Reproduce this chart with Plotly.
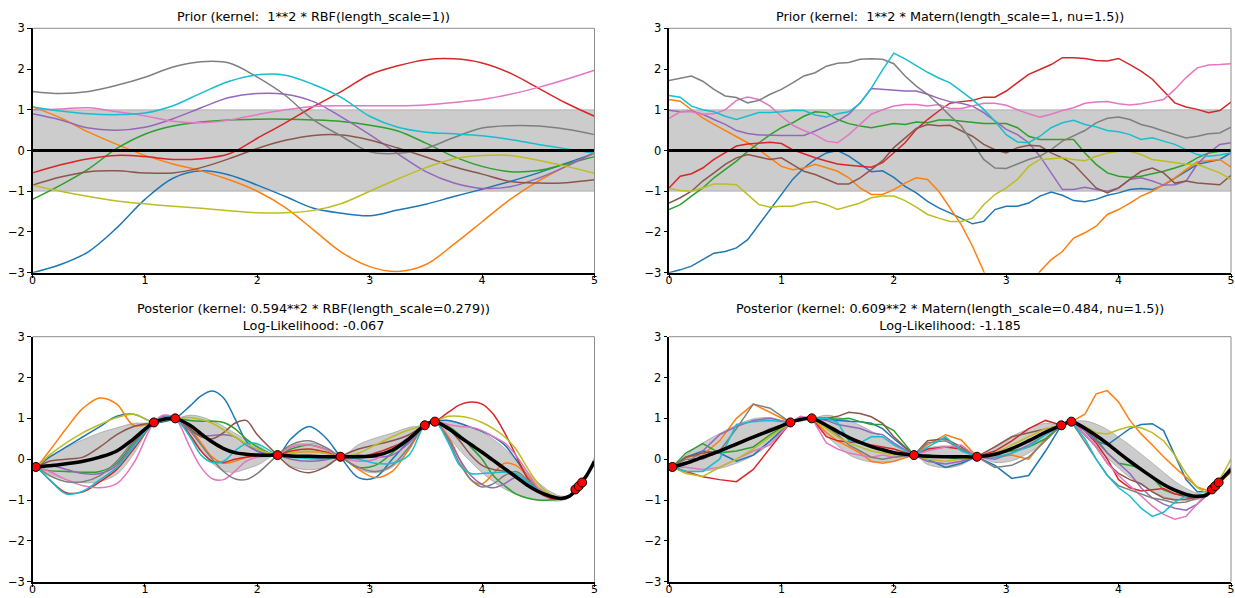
import numpy as np
import plotly.graph_objects as go

# ---------------- DATA ----------------
COLORS = ['#1f77b4', '#ff7f0e', '#2ca02c', '#d62728', '#9467bd',
          '#8c564b', '#e377c2', '#7f7f7f', '#bcbd22', '#17becf']

titles = [
    "Prior (kernel:\u00a0 1**2 * RBF(length_scale=1))",
    "Prior (kernel:\u00a0 1**2 * Matern(length_scale=1, nu=1.5))",
    "Posterior (kernel: 0.594**2 * RBF(length_scale=0.279))<br>Log-Likelihood: -0.067",
    "Posterior (kernel: 0.609**2 * Matern(length_scale=0.484, nu=1.5))<br>Log-Likelihood: -1.185",
]

x_ticks = [0, 1, 2, 3, 4, 5]
y_ticks = [-3, -2, -1, 0, 1, 2, 3]

# prior mean / std
prior_x = [0.0, 5.0]
prior_mean = [0.0, 0.0]
prior_std = [1.0, 1.0]

# ---- RBF prior samples (x step 0.25) ----
x_rbf_prior = [0.0, 0.25, 0.5, 0.75, 1.0, 1.25, 1.5, 1.75, 2.0, 2.25, 2.5,
               2.75, 3.0, 3.25, 3.5, 3.75, 4.0, 4.25, 4.5, 4.75, 5.0]
rp_blue = [-3.0, -2.8, -2.48, -1.9, -1.2, -0.68, -0.5, -0.6, -0.85, -1.13, -1.42,
           -1.54, -1.6, -1.46, -1.32, -1.13, -0.95, -0.76, -0.55, -0.31, -0.07]
rp_orange = [1.07, 0.8, 0.45, 0.15, -0.12, -0.33, -0.5, -0.72, -1.0, -1.4, -1.95,
             -2.5, -2.85, -2.97, -2.8, -2.3, -1.75, -1.2, -0.75, -0.38, -0.07]
rp_green = [-1.2, -0.85, -0.45, 0.05, 0.4, 0.6, 0.7, 0.75, 0.77, 0.77, 0.75,
            0.71, 0.62, 0.48, 0.18, -0.15, -0.39, -0.52, -0.49, -0.33, -0.15]
rp_red = [-0.55, -0.35, -0.2, -0.12, -0.15, -0.22, -0.2, -0.08, 0.3, 0.68, 1.08,
          1.45, 1.86, 2.08, 2.23, 2.25, 2.15, 1.9, 1.53, 1.16, 0.84]
rp_purple = [0.9, 0.75, 0.55, 0.5, 0.57, 0.78, 1.05, 1.3, 1.4, 1.38, 1.2,
             0.82, 0.39, -0.08, -0.52, -0.8, -0.93, -0.89, -0.68, -0.39, -0.05]
rp_brown = [-0.85, -0.65, -0.52, -0.5, -0.55, -0.55, -0.42, -0.2, 0.05, 0.25, 0.37,
            0.38, 0.26, 0.06, -0.16, -0.4, -0.58, -0.76, -0.8, -0.79, -0.72]
rp_pink = [1.0, 1.02, 1.05, 0.95, 0.85, 0.72, 0.68, 0.75, 0.88, 1.0, 1.08,
           1.1, 1.1, 1.1, 1.12, 1.18, 1.25, 1.38, 1.55, 1.75, 1.97]
rp_gray = [1.45, 1.4, 1.45, 1.6, 1.8, 2.05, 2.18, 2.15, 1.8, 1.35, 0.75,
           0.35, -0.03, -0.07, 0.05, 0.32, 0.55, 0.61, 0.6, 0.52, 0.39]
rp_olive = [-0.85, -1.0, -1.13, -1.24, -1.31, -1.37, -1.42, -1.48, -1.53, -1.53, -1.47,
            -1.3, -1.0, -0.7, -0.42, -0.2, -0.12, -0.12, -0.24, -0.39, -0.56]
rp_cyan = [1.07, 0.97, 0.9, 0.88, 0.92, 1.1, 1.41, 1.7, 1.86, 1.85, 1.62,
           1.3, 0.84, 0.57, 0.45, 0.41, 0.36, 0.27, 0.15, 0.04, -0.07]

# ---- Matern prior samples (x step 0.1) ----
x_mat_prior = [round(0.1 * i, 1) for i in range(51)]
mp_blue = [-3.0, -2.93, -2.84, -2.68, -2.52, -2.48, -2.39, -2.19, -1.82, -1.45, -1.08,
           -0.71, -0.43, -0.22, -0.06, 0.0, -0.14, -0.34, -0.52, -0.5, -0.66,
           -0.88, -1.04, -1.25, -1.41, -1.53, -1.66, -1.8, -1.74, -1.45, -1.37,
           -1.37, -1.29, -1.12, -1.02, -1.1, -1.23, -1.26, -1.2, -1.1, -1.04,
           -0.96, -0.93, -0.96, -0.85, -0.69, -0.51, -0.34, -0.28, -0.22, -0.06]
mp_orange = [1.25, 1.21, 1.0, 0.8, 0.64, 0.49, 0.35, 0.19, 0.02, -0.18, -0.39,
             -0.47, -0.43, -0.34, -0.43, -0.51, -0.67, -0.92, -1.08, -1.08, -0.96,
             -0.8, -0.67, -0.71, -1.0, -1.4, -1.82, -2.35, -2.97, -3.5, -3.8,
             -3.75, -3.4, -2.97, -2.68, -2.48, -2.15, -2.02, -1.86, -1.57, -1.45,
             -1.29, -1.12, -1.0, -0.84, -0.67, -0.47, -0.28, -0.25, -0.22, -0.41]
mp_green = [-1.45, -1.33, -1.12, -0.92, -0.67, -0.47, -0.26, -0.02, 0.19, 0.39, 0.56,
            0.68, 0.84, 0.95, 0.93, 0.76, 0.66, 0.6, 0.56, 0.61, 0.66,
            0.64, 0.7, 0.68, 0.75, 0.75, 0.72, 0.7, 0.66, 0.66, 0.66,
            0.56, 0.35, 0.27, 0.27, 0.27, 0.27, -0.06, -0.34, -0.55, -0.63,
            -0.66, -0.63, -0.57, -0.51, -0.43, -0.34, -0.18, -0.06, -0.02, 0.02]
mp_red = [-0.92, -0.63, -0.57, -0.43, -0.22, -0.06, 0.11, 0.16, 0.18, 0.2, 0.17,
          0.02, -0.08, -0.18, -0.26, -0.33, -0.36, -0.39, -0.41, -0.3, -0.06,
          0.19, 0.52, 0.76, 0.97, 1.16, 1.2, 1.23, 1.31, 1.31, 1.46,
          1.66, 1.87, 1.99, 2.11, 2.28, 2.28, 2.26, 2.21, 2.2, 2.26,
          2.11, 1.95, 1.75, 1.46, 1.17, 1.07, 1.01, 0.93, 0.98, 1.19]
mp_purple = [0.99, 0.95, 0.97, 0.89, 0.76, 0.64, 0.49, 0.42, 0.38, 0.37, 0.37,
             0.37, 0.37, 0.48, 0.6, 0.72, 0.89, 1.17, 1.52, 1.5, 1.48,
             1.46, 1.46, 1.38, 1.28, 1.2, 1.16, 1.09, 0.93, 0.72, 0.52,
             0.39, 0.19, -0.14, -0.55, -0.96, -0.96, -0.9, -0.96, -1.0, -0.92,
             -0.71, -0.67, -0.75, -0.85, -0.84, -0.75, -0.34, -0.06, 0.15, 0.19]
mp_brown = [-1.29, -1.16, -1.0, -0.75, -0.55, -0.34, -0.18, -0.1, -0.16, -0.22, -0.18,
            -0.34, -0.51, -0.59, -0.71, -0.82, -0.82, -0.67, -0.47, -0.25, 0.07,
            0.31, 0.54, 0.64, 0.61, 0.62, 0.48, 0.35, 0.15, 0.02, -0.06,
            0.07, 0.13, 0.11, -0.06, -0.18, -0.34, -0.63, -0.92, -1.04, -0.92,
            -0.71, -0.51, -0.43, -0.55, -0.8, -0.75, -0.8, -0.82, -0.84, -0.61]
mp_pink = [0.79, 0.95, 0.95, 0.89, 0.9, 1.0, 1.23, 1.31, 1.25, 1.09, 0.84,
           0.62, 0.49, 0.39, 0.23, 0.19, 0.39, 0.64, 0.89, 1.0, 1.09,
           1.13, 1.13, 1.09, 1.13, 1.03, 1.03, 1.09, 1.16, 1.16, 1.11,
           1.0, 0.9, 0.82, 0.89, 0.98, 1.05, 1.16, 1.19, 1.2, 1.15,
           1.12, 1.15, 1.2, 1.25, 1.5, 1.79, 2.03, 2.1, 2.11, 2.13]
mp_gray = [1.72, 1.77, 1.83, 1.7, 1.5, 1.34, 1.3, 1.17, 1.23, 1.38, 1.5,
           1.66, 1.83, 1.91, 2.07, 2.14, 2.16, 2.24, 2.25, 2.24, 2.13,
           1.83, 1.58, 1.38, 1.13, 0.85, 0.6, 0.19, -0.22, -0.43, -0.44,
           -0.33, -0.22, -0.14, 0.02, 0.23, 0.35, 0.49, 0.68, 0.79, 0.82,
           0.76, 0.64, 0.57, 0.48, 0.39, 0.31, 0.35, 0.41, 0.43, 0.57]
mp_olive = [-0.93, -0.98, -1.0, -0.92, -0.82, -0.82, -0.84, -1.08, -1.33, -1.39, -1.37,
            -1.37, -1.29, -1.25, -1.33, -1.45, -1.37, -1.29, -1.16, -1.12, -1.12,
            -1.23, -1.39, -1.57, -1.66, -1.74, -1.74, -1.66, -1.33, -1.08, -0.92,
            -0.71, -0.39, -0.22, -0.2, -0.18, -0.22, -0.25, -0.14, -0.06, -0.02,
            -0.02, -0.1, -0.22, -0.26, -0.3, -0.34, -0.34, -0.44, -0.55, -0.71]
mp_cyan = [1.35, 1.31, 1.09, 1.0, 0.95, 0.84, 0.76, 0.84, 0.93, 0.93, 0.95,
           0.99, 0.98, 0.87, 0.82, 0.9, 0.95, 1.16, 1.53, 1.98, 2.39,
           2.25, 2.08, 1.92, 1.78, 1.66, 1.46, 1.25, 1.01, 0.72, 0.39,
           0.21, 0.19, 0.35, 0.56, 0.68, 0.74, 0.64, 0.58, 0.49, 0.46,
           0.39, 0.27, 0.31, 0.23, 0.15, 0.02, -0.1, -0.14, -0.11, -0.06]

# ---- training data (posterior panels) ----
train_x = [0.03, 1.08, 1.27, 2.18, 2.74, 3.49, 3.58, 4.83, 4.86, 4.89]
train_y = [-0.19, 0.9, 1.0, 0.1, 0.06, 0.83, 0.92, -0.74, -0.66, -0.57]

# ---- posterior grid ----
x_post = [0.0, 0.03, 0.15, 0.3, 0.45, 0.6, 0.75, 0.9,
          1.08, 1.17, 1.27, 1.4, 1.5, 1.6, 1.7, 1.8, 1.9, 2.0,
          2.18, 2.3, 2.46, 2.6, 2.74, 2.9, 3.05, 3.2, 3.35, 3.49,
          3.58, 3.7, 3.8, 3.9, 4.0, 4.1, 4.2, 4.3, 4.4, 4.5,
          4.6, 4.7, 4.78, 4.86, 4.93, 5.0]

# RBF posterior
rq_mean = [-0.2, -0.19, -0.16, -0.11, -0.05, 0.05, 0.2, 0.5,
           0.9, 0.98, 1.0, 0.83, 0.62, 0.42, 0.26, 0.16, 0.12, 0.1,
           0.1, 0.08, 0.07, 0.06, 0.06, 0.06, 0.09, 0.22, 0.5, 0.83,
           0.92, 0.75, 0.55, 0.36, 0.17, -0.03, -0.23, -0.43, -0.63, -0.79,
           -0.9, -0.96, -0.9, -0.66, -0.4, -0.05]
rq_std = [0.05, 0.0, 0.2, 0.4, 0.53, 0.6, 0.57, 0.38,
          0.0, 0.05, 0.0, 0.25, 0.42, 0.52, 0.55, 0.48, 0.36, 0.25,
          0.0, 0.25, 0.33, 0.25, 0.0, 0.3, 0.43, 0.42, 0.28, 0.0,
          0.0, 0.2, 0.33, 0.43, 0.5, 0.52, 0.5, 0.43, 0.33, 0.22,
          0.12, 0.06, 0.03, 0.0, 0.03, 0.1]
rq_blue = [-0.19, -0.19, 0.05, 0.3, 0.55, 0.8, 1.05, 1.1,
           0.9, 0.92, 1.0, 1.3, 1.55, 1.67, 1.5, 1.0, 0.45, 0.2,
           0.1, 0.5, 0.8, 0.55, 0.06, -0.45, -0.45, 0.0, 0.45, 0.83,
           0.92, 0.95, 0.88, 0.78, 0.68, 0.55, 0.35, 0.0, -0.4, -0.72,
           -0.9, -0.95, -0.9, -0.66, -0.4, -0.05]
rq_orange = [-0.19, -0.19, 0.2, 0.75, 1.25, 1.5, 1.35, 0.83,
             0.9, 0.97, 1.0, 0.75, 0.4, 0.05, -0.1, -0.05, 0.05, 0.1,
             0.1, 0.15, 0.18, 0.15, 0.06, -0.25, -0.45, -0.3, 0.25, 0.83,
             0.92, 0.55, 0.0, -0.5, -0.6, -0.35, -0.1, -0.15, -0.4, -0.7,
             -0.88, -0.95, -0.9, -0.66, -0.4, -0.05]
rq_green = [-0.19, -0.19, -0.28, -0.3, -0.32, -0.3, -0.1, 0.4,
            0.9, 1.0, 1.0, 0.95, 0.93, 0.93, 0.9, 0.75, 0.5, 0.3,
            0.1, 0.25, 0.35, 0.25, 0.06, -0.2, -0.15, 0.15, 0.5, 0.83,
            0.92, 0.8, 0.6, 0.3, 0.0, -0.4, -0.65, -0.85, -0.95, -1.0,
            -1.0, -0.97, -0.9, -0.66, -0.4, -0.05]
rq_red = [-0.19, -0.19, -0.5, -0.82, -0.8, -0.55, -0.25, 0.25,
          0.9, 1.05, 1.0, 0.6, 0.2, -0.05, -0.08, 0.0, 0.05, 0.08,
          0.1, 0.2, 0.25, 0.18, 0.06, 0.05, 0.15, 0.3, 0.5, 0.83,
          0.92, 1.15, 1.33, 1.4, 1.35, 1.1, 0.65, 0.1, -0.45, -0.8,
          -0.95, -0.97, -0.9, -0.66, -0.4, -0.05]
rq_purple = [-0.19, -0.19, -0.15, -0.25, -0.35, -0.35, -0.15, 0.35,
             0.9, 1.05, 1.0, 0.7, 0.58, 0.58, 0.6, 0.55, 0.35, 0.2,
             0.1, 0.0, -0.05, -0.02, 0.06, 0.1, 0.05, 0.1, 0.4, 0.83,
             0.92, 0.5, 0.0, -0.4, -0.62, -0.7, -0.6, -0.45, -0.55, -0.75,
             -0.9, -0.95, -0.9, -0.66, -0.4, -0.05]
rq_brown = [-0.19, -0.19, -0.05, 0.0, 0.05, 0.3, 0.6, 0.8,
            0.9, 0.95, 1.0, 0.75, 0.55, 0.5, 0.65, 0.88, 0.95, 0.6,
            0.1, -0.2, -0.33, -0.2, 0.06, 0.25, 0.35, 0.45, 0.6, 0.83,
            0.92, 0.75, 0.45, 0.1, -0.15, -0.25, -0.3, -0.45, -0.65, -0.82,
            -0.92, -0.95, -0.9, -0.66, -0.4, -0.05]
rq_pink = [-0.19, -0.19, -0.3, -0.5, -0.65, -0.7, -0.6, -0.1,
           0.9, 1.08, 1.0, 0.3, -0.2, -0.48, -0.5, -0.3, -0.05, 0.05,
           0.1, 0.3, 0.35, 0.25, 0.06, -0.05, 0.0, 0.25, 0.55, 0.83,
           0.92, 0.85, 0.8, 0.78, 0.7, 0.55, 0.4, 0.1, -0.3, -0.7,
           -0.9, -0.96, -0.9, -0.66, -0.4, -0.05]
rq_gray = [-0.19, -0.19, -0.4, -0.55, -0.55, -0.4, -0.05, 0.45,
           0.9, 1.0, 1.0, 0.7, 0.35, 0.0, -0.3, -0.48, -0.5, -0.35,
           0.1, 0.35, 0.45, 0.3, 0.06, -0.2, -0.3, -0.15, 0.3, 0.83,
           0.92, 0.45, -0.1, -0.5, -0.68, -0.6, -0.4, -0.3, -0.5, -0.75,
           -0.9, -0.95, -0.9, -0.66, -0.4, -0.05]
rq_olive = [-0.19, -0.19, 0.1, 0.4, 0.65, 0.85, 1.02, 1.1,
            0.9, 0.95, 1.0, 1.02, 0.97, 0.88, 0.72, 0.55, 0.38, 0.25,
            0.1, 0.15, 0.2, 0.15, 0.06, 0.15, 0.35, 0.55, 0.72, 0.83,
            0.92, 1.05, 1.05, 1.0, 0.9, 0.75, 0.55, 0.25, -0.2, -0.6,
            -0.85, -0.95, -0.9, -0.66, -0.4, -0.05]
rq_cyan = [-0.19, -0.19, -0.5, -0.85, -0.78, -0.5, -0.2, 0.3,
           0.9, 1.02, 1.0, 0.55, 0.1, -0.08, -0.05, 0.2, 0.38, 0.38,
           0.1, 0.05, 0.02, 0.0, 0.06, 0.0, -0.1, -0.1, 0.1, 0.83,
           0.92, 0.4, -0.15, -0.35, -0.35, -0.33, -0.32, -0.35, -0.55, -0.75,
           -0.9, -0.95, -0.9, -0.66, -0.4, -0.05]

# Matern posterior
mq_mean = [-0.2, -0.19, -0.1, 0.05, 0.2, 0.37, 0.54, 0.7,
           0.9, 0.97, 1.0, 0.83, 0.68, 0.53, 0.41, 0.31, 0.23, 0.16,
           0.1, 0.07, 0.06, 0.06, 0.06, 0.12, 0.26, 0.45, 0.66, 0.83,
           0.92, 0.76, 0.58, 0.38, 0.16, -0.05, -0.25, -0.44, -0.62, -0.76,
           -0.86, -0.91, -0.88, -0.66, -0.45, -0.25]
mq_std = [0.05, 0.0, 0.2, 0.35, 0.43, 0.47, 0.45, 0.32,
          0.0, 0.05, 0.0, 0.25, 0.35, 0.42, 0.42, 0.38, 0.3, 0.22,
          0.0, 0.2, 0.27, 0.2, 0.0, 0.2, 0.3, 0.3, 0.22, 0.0,
          0.0, 0.18, 0.28, 0.35, 0.38, 0.4, 0.38, 0.35, 0.3, 0.22,
          0.15, 0.08, 0.04, 0.0, 0.04, 0.1]
mq_blue = [-0.19, -0.19, 0.05, 0.2, 0.15, -0.05, 0.1, 0.45,
           0.9, 0.98, 1.0, 0.97, 0.95, 0.93, 0.92, 0.88, 0.75, 0.5,
           0.1, 0.0, -0.2, -0.1, 0.06, -0.15, -0.47, -0.4, 0.2, 0.83,
           0.92, 0.75, 0.45, 0.35, 0.55, 0.75, 0.85, 0.87, 0.7, 0.1,
           -0.5, -0.8, -0.8, -0.66, -0.45, -0.3]
mq_orange = [-0.19, -0.19, 0.05, 0.1, 0.45, 1.0, 1.35, 1.15,
             0.9, 1.0, 1.0, 0.65, 0.45, 0.3, 0.15, -0.05, -0.1, -0.05,
             0.1, 0.35, 0.6, 0.47, 0.06, 0.05, 0.1, 0.0, 0.5, 0.83,
             0.92, 1.1, 1.6, 1.68, 1.4, 0.95, 0.62, 0.35, 0.06, -0.2,
             -0.45, -0.68, -0.76, -0.66, -0.5, -0.3]
mq_green = [-0.19, -0.19, 0.15, 0.38, 0.15, 0.2, 0.3, 0.6,
            0.9, 1.0, 1.0, 1.0, 0.98, 1.0, 0.92, 0.85, 0.85, 0.7,
            0.1, 0.1, 0.05, 0.0, 0.06, 0.15, 0.2, 0.3, 0.5, 0.83,
            0.92, 0.75, 0.5, 0.15, -0.1, -0.15, -0.22, -0.45, -0.75, -0.85,
            -0.88, -0.9, -0.86, -0.66, -0.45, -0.25]
mq_red = [-0.19, -0.19, -0.3, -0.43, -0.5, -0.55, -0.25, 0.28,
          0.9, 1.02, 1.0, 0.55, 0.45, 0.42, 0.4, 0.35, 0.3, 0.25,
          0.1, 0.25, 0.3, 0.25, 0.06, 0.2, 0.45, 0.75, 0.95, 0.83,
          0.92, 0.7, 0.4, 0.0, -0.5, -0.7, -0.78, -0.75, -0.72, -0.85,
          -0.92, -0.95, -0.88, -0.66, -0.45, -0.25]
mq_purple = [-0.19, -0.19, -0.1, 0.2, 0.6, 0.8, 0.95, 1.0,
             0.9, 1.0, 1.0, 0.95, 0.85, 0.8, 0.75, 0.65, 0.6, 0.4,
             0.1, -0.05, -0.12, -0.05, 0.06, 0.0, 0.15, 0.35, 0.6, 0.83,
             0.92, 0.7, 0.45, 0.15, -0.1, -0.35, -0.7, -0.95, -1.1, -1.2,
             -1.25, -1.1, -0.9, -0.66, -0.45, -0.2]
mq_brown = [-0.19, -0.19, 0.05, 0.15, 0.2, 0.4, 0.55, 0.75,
            0.9, 1.0, 1.0, 1.0, 1.05, 1.15, 1.12, 1.04, 0.88, 0.55,
            0.1, 0.45, 0.5, 0.3, 0.06, 0.3, 0.55, 0.65, 0.75, 0.83,
            0.92, 0.6, 0.3, -0.1, -0.35, -0.5, -0.6, -0.8, -0.95, -1.0,
            -0.98, -0.93, -0.87, -0.66, -0.45, -0.25]
mq_pink = [-0.19, -0.19, -0.2, -0.25, -0.2, 0.0, 0.2, 0.35,
           0.9, 1.05, 1.0, 0.4, 0.25, 0.15, 0.1, 0.05, 0.1, 0.05,
           0.1, 0.2, 0.3, 0.35, 0.06, 0.1, 0.25, 0.45, 0.7, 0.83,
           0.92, 0.6, 0.3, -0.1, -0.4, -0.65, -0.9, -1.15, -1.35, -1.47,
           -1.4, -1.1, -0.85, -0.66, -0.45, -0.25]
mq_gray = [-0.19, -0.19, 0.0, 0.0, 0.2, 0.75, 1.35, 1.25,
           0.9, 1.0, 1.0, 0.8, 0.6, 0.35, 0.2, 0.05, 0.0, 0.05,
           0.1, 0.4, 0.45, 0.25, 0.06, -0.2, -0.15, 0.05, 0.45, 0.83,
           0.92, 0.4, 0.0, -0.4, -0.65, -0.75, -0.85, -0.95, -1.0, -1.07,
           -1.05, -0.96, -0.88, -0.66, -0.45, -0.25]
mq_olive = [-0.19, -0.19, -0.35, -0.42, -0.2, 0.0, 0.25, 0.55,
            0.9, 1.0, 1.0, 0.75, 0.55, 0.4, 0.3, 0.2, 0.15, 0.1,
            0.1, 0.0, -0.05, 0.0, 0.06, 0.15, 0.35, 0.55, 0.75, 0.83,
            0.92, 0.8, 0.65, 0.62, 0.72, 0.8, 0.77, 0.65, 0.45, 0.1,
            -0.35, -0.7, -0.82, -0.66, -0.35, 0.0]
mq_cyan = [-0.19, -0.19, -0.3, -0.3, 0.0, 0.85, 0.92, 0.95,
           0.9, 1.0, 1.0, 1.0, 0.9, 0.45, 0.4, 0.55, 0.55, 0.35,
           0.1, 0.3, 0.55, 0.2, 0.06, 0.05, 0.15, 0.3, 0.6, 0.83,
           0.92, 0.5, 0.0, -0.4, -0.7, -0.9, -1.2, -1.4, -1.3, -1.05,
           -0.9, -0.9, -0.85, -0.66, -0.45, -0.25]

# ---------------- FIGURE ----------------
W, H = 1235, 598
fig = go.Figure()


def axis_names(i):
    return ('x' if i == 1 else 'x%d' % i), ('y' if i == 1 else 'y%d' % i)


def add_panel(i, band_x, mean, std, band_shape, xs, samples, shape,
              mean_w, train=False):
    xa, ya = axis_names(i)
    m = np.array(mean, dtype=float)
    s = np.array(std, dtype=float)
    edge = dict(color='rgba(0,0,0,0.2)', width=1, shape=band_shape)
    fig.add_trace(go.Scatter(x=band_x, y=m + s, mode='lines', line=edge,
                             xaxis=xa, yaxis=ya, hoverinfo='skip'))
    fig.add_trace(go.Scatter(x=band_x, y=m - s, mode='lines', line=edge,
                             fill='tonexty', fillcolor='rgba(0,0,0,0.2)',
                             xaxis=xa, yaxis=ya, hoverinfo='skip'))
    for c, yv in zip(COLORS, samples):
        n = min(len(xs), len(yv))
        fig.add_trace(go.Scatter(x=xs[:n], y=yv[:n], mode='lines',
                                 line=dict(color=c, width=1.5, shape=shape),
                                 xaxis=xa, yaxis=ya))
    fig.add_trace(go.Scatter(x=band_x, y=mean, mode='lines',
                             line=dict(color='black', width=mean_w, shape=band_shape),
                             xaxis=xa, yaxis=ya))
    if train:
        fig.add_trace(go.Scatter(x=train_x, y=train_y, mode='markers',
                                 marker=dict(color='red', size=9,
                                             line=dict(color='black', width=1)),
                                 xaxis=xa, yaxis=ya, cliponaxis=False))


add_panel(1, prior_x, prior_mean, prior_std, 'linear', x_rbf_prior,
          [rp_blue, rp_orange, rp_green, rp_red, rp_purple, rp_brown,
           rp_pink, rp_gray, rp_olive, rp_cyan], 'spline', 3)
add_panel(2, prior_x, prior_mean, prior_std, 'linear', x_mat_prior,
          [mp_blue, mp_orange, mp_green, mp_red, mp_purple, mp_brown,
           mp_pink, mp_gray, mp_olive, mp_cyan], 'linear', 3)
add_panel(3, x_post, rq_mean, rq_std, 'spline', x_post,
          [rq_blue, rq_orange, rq_green, rq_red, rq_purple, rq_brown,
           rq_pink, rq_gray, rq_olive, rq_cyan], 'spline', 3.5, train=True)
add_panel(4, x_post, mq_mean, mq_std, 'spline', x_post,
          [mq_blue, mq_orange, mq_green, mq_red, mq_purple, mq_brown,
           mq_pink, mq_gray, mq_olive, mq_cyan], 'linear', 3.5, train=True)

# panel geometry in pixels (left, right, top, bottom)
panels = {
    1: (32.5, 594.5, 28.3, 272.7),
    2: (669.0, 1231.0, 28.3, 272.7),
    3: (32.5, 594.5, 336.7, 581.7),
    4: (669.0, 1231.0, 336.7, 581.7),
}
font = 'DejaVu Sans, Verdana, sans-serif'
layout = dict(width=W, height=H, autosize=False,
              margin=dict(l=0, r=0, t=0, b=0, pad=0, autoexpand=False),
              paper_bgcolor='white', plot_bgcolor='white', showlegend=False,
              font=dict(family=font, color='black'))
annotations = []
shapes = []
for i, (l, r, t, b) in panels.items():
    xa, ya = axis_names(i)
    xkey = 'xaxis' if i == 1 else 'xaxis%d' % i
    ykey = 'yaxis' if i == 1 else 'yaxis%d' % i
    common = dict(showgrid=False, zeroline=False, showline=True,
                  linecolor='black', linewidth=1.5, ticks='outside',
                  ticklen=3.5, tickwidth=1, tickcolor='black',
                  fixedrange=True, automargin=False)
    layout[xkey] = dict(domain=[l / W, r / W], range=[0, 5],
                        tickmode='array', tickvals=x_ticks,
                        ticktext=[str(v) for v in x_ticks],
                        ticklabelstandoff=-7,
                        tickfont=dict(family=font, size=11, color='black'),
                        anchor=ya, **common)
    layout[ykey] = dict(domain=[1 - b / H, 1 - t / H], range=[-3, 3],
                        tickmode='array', tickvals=y_ticks,
                        ticktext=[str(v).replace('-', '\u2212') for v in y_ticks],
                        tickfont=dict(family=font, size=11.5, color='black'),
                        anchor=xa, **common)
    annotations.append(dict(text=titles[i - 1], xref=xa + ' domain',
                            yref=ya + ' domain', x=0.5, y=1.0,
                            xanchor='center', yanchor='bottom', yshift=2,
                            showarrow=False,
                            font=dict(family=font, size=12.8, color='black')))
    # top & right spines (grey)
    shapes.append(dict(type='line', xref=xa + ' domain', yref=ya + ' domain',
                       x0=0, x1=1, y0=1, y1=1,
                       line=dict(color='#8c8c8c', width=1)))
    shapes.append(dict(type='line', xref=xa + ' domain', yref=ya + ' domain',
                       x0=1, x1=1, y0=0, y1=1,
                       line=dict(color='#8c8c8c', width=1)))
layout['annotations'] = annotations
layout['shapes'] = shapes
fig.update_layout(**layout)

fig.write_html("out.html")
